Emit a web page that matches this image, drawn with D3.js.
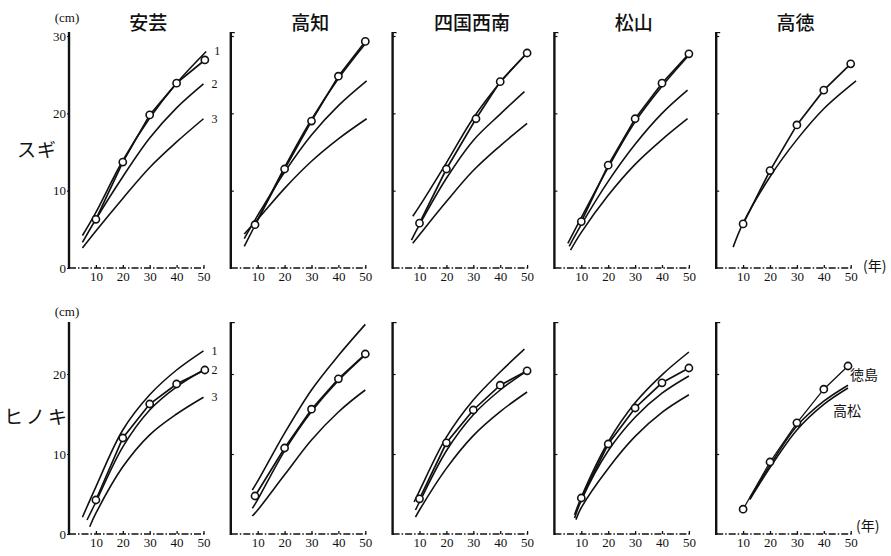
<!DOCTYPE html>
<meta charset="utf-8">
<head>
  <title>スギ・ヒノキ 直径成長</title>
</head>
<style>
body { margin: 0; background: #fff; }
svg { display: block; }
.tick text { font-family: "Liberation Serif", "DejaVu Serif", serif; font-size: 13px; fill: #111; }
.jp { font-family: "Noto Sans CJK JP", sans-serif; fill: #111; }
.serif { font-family: "Liberation Serif", "DejaVu Serif", serif; fill: #111; }
.curve { fill: none; stroke: #111; stroke-width: 1.6px; }
.obs { fill: none; stroke: #111; stroke-width: 1.7px; }
</style>
<body>
<script src="https://cdnjs.cloudflare.com/ajax/libs/d3/7.8.5/d3.min.js"></script>
<script>
// panel titles and row names
var regions = ["安芸", "高知", "四国西南", "松山", "高徳"];
var species = ["スギ", "ヒノキ"];
var xTicks = [10, 20, 30, 40, 50];
var sugiTicks = [0, 10, 20, 30];
var hinokiTicks = [0, 10, 20];
var classLabels = ["1", "2", "3"];
var localLabels = ["徳島", "高松"];

// observed means, [age, cm], one list per region
var sugiObserved = [
  [[10, 6.3], [20, 13.7], [30, 19.8], [40, 23.9], [50.5, 26.9]],
  [[9, 5.6], [20, 12.8], [30, 19.0], [40, 24.8], [50, 29.3]],
  [[10, 5.8], [20, 12.8], [31, 19.3], [40, 24.1], [50, 27.8]],
  [[10, 6.0], [20, 13.3], [30, 19.3], [40, 23.9], [50, 27.7]],
  [[10, 5.7], [20, 12.6], [30, 18.5], [40, 23.0], [50, 26.4]]
];
var hinokiObserved = [
  [[10, 4.25], [20, 12.0], [30, 16.25], [40, 18.75], [50.5, 20.5]],
  [[9, 4.75], [20, 10.75], [30, 15.6], [40, 19.4], [50, 22.5]],
  [[10, 4.4], [20, 11.4], [30, 15.5], [40, 18.6], [50, 20.4]],
  [[10, 4.5], [20, 11.25], [30, 15.75], [40, 18.9], [50, 20.75]],
  [[10, 3.1], [20, 9.0], [30, 13.9], [40, 18.1], [49, 21.0]]
];

// site class curves 1,2,3 (高徳 ヒノキ: 徳島, 高松)
var sugiCurves = [
  [[[5, 4.2], [10, 7.2], [20, 13.9], [30, 19.4], [40, 23.9], [51, 28.0]],
   [[5, 3.3], [10, 6.3], [20, 11.8], [30, 16.8], [40, 20.7], [50, 23.8]],
   [[5, 2.6], [10, 4.8], [20, 9.0], [30, 13.0], [40, 16.3], [50, 19.3]]],
  [[[5, 2.8], [10, 6.2], [20, 13.0], [30, 19.2], [40, 24.5], [50, 29.0]],
   [[5, 3.8], [10, 6.8], [20, 12.4], [30, 17.2], [40, 21.0], [50.5, 24.2]],
   [[5, 4.4], [10, 6.3], [20, 10.3], [30, 13.8], [40, 16.7], [50.5, 19.3]]],
  [[[7.5, 6.7], [10, 8.0], [20, 13.6], [30, 19.4], [40, 24.0], [50, 27.8]],
   [[7, 3.6], [10, 5.6], [20, 11.6], [30, 16.5], [40, 19.9], [49, 22.8]],
   [[7.5, 3.2], [10, 4.3], [20, 8.6], [30, 12.6], [40, 15.8], [50, 18.7]]],
  [[[5, 3.2], [10, 6.5], [20, 13.0], [30, 18.9], [40, 23.5], [50, 27.5]],
   [[5.5, 2.8], [10, 5.6], [20, 11.2], [30, 16.0], [40, 20.0], [49.5, 23.0]],
   [[6, 2.3], [10, 4.6], [20, 9.4], [30, 13.4], [40, 16.6], [49.5, 19.3]]],
  [[[6.3, 2.7], [10, 5.8], [20, 11.8], [30, 16.6], [40, 20.6], [52, 24.2]]]
];
var hinokiCurves = [
  [[[5, 2.1], [10, 5.9], [20, 13.0], [30, 17.4], [40, 20.5], [50, 22.9]],
   [[6.7, 1.75], [10, 4.0], [20, 10.9], [30, 15.5], [40, 18.4], [50, 20.5]],
   [[7.7, 0.9], [10, 2.6], [20, 8.4], [30, 12.4], [40, 15.0], [50, 17.1]]],
  [[[8, 5.5], [10, 6.6], [20, 12.6], [30, 18.0], [40, 22.3], [50, 26.2]],
   [[8, 3.2], [10, 4.3], [20, 10.4], [30, 15.3], [40, 19.2], [50, 22.4]],
   [[8, 2.25], [10, 3.0], [20, 7.4], [30, 11.75], [40, 15.25], [50, 18.0]]],
  [[[8, 4.0], [10, 5.4], [20, 12.1], [30, 16.75], [40, 20.25], [49, 23.1]],
   [[8.5, 3.0], [10, 4.0], [20, 10.4], [30, 14.9], [40, 18.0], [50, 20.4]],
   [[8.5, 2.1], [10, 3.0], [20, 8.2], [30, 12.3], [40, 15.3], [50, 17.75]]],
  [[[7.5, 2.4], [10, 4.6], [20, 11.5], [30, 16.4], [40, 19.9], [50, 22.75]],
   [[7.5, 2.0], [10, 4.2], [20, 10.4], [30, 14.6], [40, 17.6], [50, 19.75]],
   [[8, 1.8], [10, 3.3], [20, 8.2], [30, 12.2], [40, 15.2], [50, 17.4]]],
  [[[12.5, 4.5], [20, 8.6], [30, 13.5], [40, 16.6], [49, 18.6]],
   [[12.5, 4.3], [20, 8.3], [30, 13.0], [40, 16.2], [49, 18.25]]]
];

var svg = d3.select("body").append("svg")
    .attr("width", 891)
    .attr("height", 556);

var x = d3.scaleLinear().domain([0, 50]).range([0, 134.5]);

var rows = [
  { name: species[0], obs: sugiObserved, curves: sugiCurves, ticks: sugiTicks,
    y: d3.scaleLinear().domain([0, 30]).range([268, 36]), top: 32, nameY: 157, cmY: 22 },
  { name: species[1], obs: hinokiObserved, curves: hinokiCurves, ticks: hinokiTicks,
    y: d3.scaleLinear().domain([0, 20]).range([534, 374]), top: 322, nameY: 424, cmY: 316 }
];

rows.forEach(function(row, r) {
  var y = row.y;
  var line = d3.line()
      .x(function(d) { return x(d[0]); })
      .y(function(d) { return y(d[1]); });
  var curveLine = d3.line()
      .x(function(d) { return x(d[0]); })
      .y(function(d) { return y(d[1]); })
      .curve(d3.curveCatmullRom.alpha(0.5));

  // row name
  svg.append("text")
      .attr("class", "jp")
      .attr("x", 37)
      .attr("y", row.nameY)
      .attr("text-anchor", "middle")
      .style("font-size", "19px")
      .style("letter-spacing", r == 1 ? "3px" : "1px")
      .text(row.name);

  svg.append("text")
      .attr("class", "serif")
      .attr("x", 67)
      .attr("y", row.cmY)
      .attr("text-anchor", "middle")
      .style("font-size", "13px")
      .text("(cm)");

  regions.forEach(function(reg, i) {
    var g = svg.append("g")
        .attr("transform", "translate(" + (69 + i * 161.8) + ",0)");

    if (r == 0) {
      g.append("text")
          .attr("class", "jp")
          .attr("x", x(29.5))
          .attr("y", 30)
          .attr("text-anchor", "middle")
          .style("font-size", "19px")
          .style("font-weight", 500)
          .text(reg);
    }

    // x axis: dash-dot baseline with small upward ticks
    var xa = g.append("g")
        .attr("transform", "translate(0," + y(0) + ")")
        .call(d3.axisBottom(x).tickValues(xTicks).tickSize(-3).tickPadding(4));
    xa.select(".domain").remove();
    xa.selectAll(".tick line").attr("stroke", "#111").attr("stroke-width", 1.3);
    g.append("line")
        .attr("x1", 0).attr("x2", x(50) + 2)
        .attr("y1", y(0)).attr("y2", y(0))
        .attr("stroke", "#111")
        .attr("stroke-width", 1.3)
        .attr("stroke-dasharray", "7,2,1.5,2");

    // y axis
    var ya;
    if (i == 0) {
      ya = g.append("g").call(d3.axisLeft(y).tickValues(row.ticks).tickSize(2).tickPadding(1));
    } else {
      ya = g.append("g").call(d3.axisRight(y).tickValues(row.ticks.slice(1)).tickSize(3).tickFormat(""));
    }
    ya.select(".domain").remove();
    ya.selectAll(".tick line").attr("stroke", "#111").attr("stroke-width", 1.2);
    g.append("line")
        .attr("x1", 0).attr("x2", 0)
        .attr("y1", y(0) + 1).attr("y2", row.top)
        .attr("stroke", "#111")
        .attr("stroke-width", 2.4);
    if (i > 0) {
      g.append("line")
          .attr("x1", 0).attr("x2", 4)
          .attr("y1", row.top + 0.6).attr("y2", row.top + 0.6)
          .attr("stroke", "#111")
          .attr("stroke-width", 1.2);
    }

    // site class curves
    var curves = row.curves[i];
    g.selectAll("path.curve")
        .data(curves)
      .enter().append("path")
        .attr("class", "curve")
        .attr("d", curveLine);

    // observed
    g.append("path")
        .datum(row.obs[i])
        .attr("class", "obs")
        .style("stroke-width", (r == 1 && i == 4) ? "1.3px" : "1.7px")
        .attr("d", line);
    g.selectAll("circle")
        .data(row.obs[i])
      .enter().append("circle")
        .attr("cx", function(d) { return x(d[0]); })
        .attr("cy", function(d) { return y(d[1]); })
        .attr("r", 3.6)
        .attr("fill", "#fff")
        .attr("stroke", "#111")
        .attr("stroke-width", 1.6);

    // class labels at curve ends
    if (i == 0) {
      g.selectAll("text.cls")
          .data(curves)
        .enter().append("text")
          .attr("class", "serif cls")
          .attr("x", function(d) { return x(d[d.length - 1][0]) + 8; })
          .attr("y", function(d) { return y(d[d.length - 1][1]) + 4; })
          .style("font-size", "12px")
          .text(function(d, k) { return classLabels[k]; });
    }

    if (i == 4) {
      g.append("text")
          .attr("class", "jp")
          .attr("x", x(50) + (r == 0 ? 24 : 17))
          .attr("y", y(0) + (r == 0 ? 3 : -3))
          .attr("text-anchor", "middle")
          .style("font-size", "14px")
          .text("(年)");
    }

    if (r == 1 && i == 4) {
      g.append("text")
          .attr("class", "jp")
          .attr("x", x(49) + 16)
          .attr("y", y(19.3))
          .attr("text-anchor", "middle")
          .style("font-size", "14px")
          .text(localLabels[0]);
      g.append("text")
          .attr("class", "jp")
          .attr("x", x(49) - 1)
          .attr("y", y(14.8))
          .attr("text-anchor", "middle")
          .style("font-size", "14px")
          .text(localLabels[1]);
    }
  });
});
</script>
</body>
</html>
